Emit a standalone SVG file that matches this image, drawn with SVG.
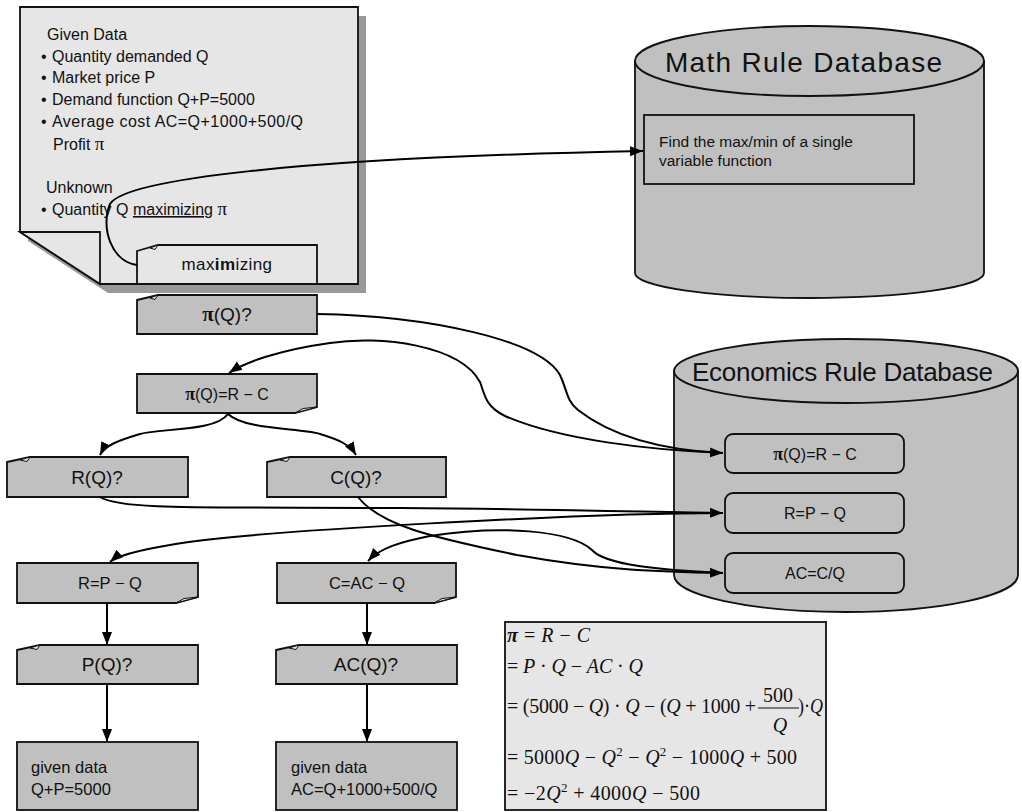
<svg xmlns="http://www.w3.org/2000/svg" width="1022" height="812" viewBox="0 0 1022 812">
<defs>
<marker id="arr" markerUnits="userSpaceOnUse" markerWidth="14" markerHeight="12" refX="13" refY="6" orient="auto">
<path d="M0,1 L13,6 L0,11 Z" fill="#000"/>
</marker>
<style>
.s{font-family:"Liberation Sans",Arial,sans-serif;fill:#111}
.m{font-family:"Liberation Serif","Times New Roman",serif;fill:#111}
.gray{fill:#c0c0c0;stroke:#111;stroke-width:1.8}
.light{fill:#e6e6e6;stroke:#111;stroke-width:1.8}
.curl{fill:#e8e8e8;stroke:#111;stroke-width:1}
.c{fill:none;stroke:#000;stroke-width:2}
.pi{font-family:"Liberation Serif","Times New Roman",serif;font-weight:bold}
</style>
</defs>
<rect width="1022" height="812" fill="#fff"/>

<g id="given-page">
<path d="M28,16 L366,16 L366,293 L108,293 L28,241 Z" fill="#999"/>
<path class="light" d="M20,7 L358,7 L358,284 L100,284 L20,232 Z"/>
<path class="light" d="M20,232 L100,232 L100,284 Z"/>
<g class="s" font-size="16">
<text x="47" y="40">Given Data</text>
<text x="41" y="62">•</text><text x="52" y="62">Quantity demanded Q</text>
<text x="41" y="83">•</text><text x="52" y="83">Market price P</text>
<text x="41" y="105">•</text><text x="52" y="105">Demand function Q+P=5000</text>
<text x="41" y="127">•</text><text x="52" y="127" textLength="251" lengthAdjust="spacing">Average cost AC=Q+1000+500/Q</text>
<text x="53" y="150">Profit  <tspan font-family="Liberation Serif, serif" font-size="19">π</tspan></text>
<text x="46" y="193">Unknown</text>
<text x="41" y="215">•</text><text x="52" y="215">Quantity Q <tspan text-decoration="underline">maximizing</tspan> <tspan font-family="Liberation Serif, serif" font-size="19">π</tspan></text>
</g>
</g>

<g id="maximizing">
<path class="light" d="M137,251 L158,245 L317,245 L317,284 L137,284 Z"/>
<path class="curl" d="M150,248 L158,245 L155,249.5 Z"/>
<text class="s" x="227" y="270" font-size="17" text-anchor="middle" letter-spacing="0.4">max<tspan font-weight="bold">im</tspan>izing</text>
</g>

<g id="math-db">
<path class="gray" d="M635,61 L635,273 A174.5,25 0 0 0 984,273 L984,61 Z"/>
<ellipse class="gray" cx="809.5" cy="61" rx="174.5" ry="35"/>
<text class="s" x="665" y="72" font-size="28" textLength="277" lengthAdjust="spacing">Math Rule Database</text>
</g>
<g id="math-rule">
<rect class="gray" x="644" y="115" width="270" height="69"/>
<text class="s" x="659" y="147" font-size="15.5">Find the max/min of a single</text>
<text class="s" x="659" y="166" font-size="15.5">variable function</text>
</g>

<g id="econ-db">
<path class="gray" d="M674,371 L674,575 A172,37 0 0 0 1018,575 L1018,371 Z"/>
<ellipse class="gray" cx="846" cy="371" rx="172" ry="32"/>
<text class="s" x="692" y="381" font-size="26" textLength="301" lengthAdjust="spacing">Economics Rule Database</text>
</g>
<g id="econ-rule-profit">
<rect class="gray" x="725" y="434" width="179" height="39" rx="8"/>
<text class="s" x="815" y="460" font-size="16" text-anchor="middle"><tspan class="pi" font-size="18">π</tspan>(Q)=R − C</text>
</g>
<g id="econ-rule-revenue">
<rect class="gray" x="725" y="493" width="179" height="40" rx="8"/>
<text class="s" x="815" y="519" font-size="16" text-anchor="middle">R=P − Q</text>
</g>
<g id="econ-rule-ac">
<rect class="gray" x="725" y="553" width="179" height="40" rx="8"/>
<text class="s" x="815" y="579" font-size="16" text-anchor="middle">AC=C/Q</text>
</g>

<g id="pi-q">
<path class="gray" d="M137,300 L158,295 L317,295 L317,334 L137,334 Z"/>
<path class="curl" d="M150,298 L158,295 L155,299.5 Z"/>
<text class="s" x="227" y="321" font-size="19" text-anchor="middle"><tspan class="pi" font-size="21">π</tspan>(Q)?</text>
</g>

<g id="pi-rc">
<path class="gray" d="M137,374 L317,374 L317,407 L295,413 L137,413 Z"/>
<path class="curl" d="M295,413 L303,408.5 L317,407 Z"/>
<text class="s" x="227" y="400" font-size="16" text-anchor="middle"><tspan class="pi" font-size="18">π</tspan>(Q)=R − C</text>
</g>

<g id="r-q">
<path class="gray" d="M7,462 L30,457 L188,457 L188,497 L7,497 Z"/>
<path class="curl" d="M20,460 L30,457 L27,461.5 Z"/>
<text class="s" x="97" y="484" font-size="19" text-anchor="middle">R(Q)?</text>
</g>
<g id="c-q">
<path class="gray" d="M267,462 L290,457 L446,457 L446,497 L267,497 Z"/>
<path class="curl" d="M280,460 L290,457 L287,461.5 Z"/>
<text class="s" x="356" y="484" font-size="19" text-anchor="middle">C(Q)?</text>
</g>

<g id="r-pq">
<path class="gray" d="M17,563 L198,563 L198,597 L176,603 L17,603 Z"/>
<path class="curl" d="M176,603 L184,598.5 L198,597 Z"/>
<text class="s" x="110" y="589" font-size="16.5" text-anchor="middle">R=P − Q</text>
</g>
<g id="c-acq">
<path class="gray" d="M277,563 L456,563 L456,597 L434,603 L277,603 Z"/>
<path class="curl" d="M434,603 L442,598.5 L456,597 Z"/>
<text class="s" x="367" y="589" font-size="16.5" text-anchor="middle">C=AC − Q</text>
</g>

<g id="p-q">
<path class="gray" d="M17,650 L40,645 L198,645 L198,684 L17,684 Z"/>
<path class="curl" d="M30,648 L40,645 L37,649.5 Z"/>
<text class="s" x="107" y="671" font-size="19" text-anchor="middle">P(Q)?</text>
</g>
<g id="ac-q">
<path class="gray" d="M276,650 L299,645 L457,645 L457,684 L276,684 Z"/>
<path class="curl" d="M289,648 L299,645 L296,649.5 Z"/>
<text class="s" x="366" y="671" font-size="19" text-anchor="middle">AC(Q)?</text>
</g>

<g id="given-p">
<rect class="gray" x="17" y="742" width="181" height="68"/>
<text class="s" x="31" y="773" font-size="16.5">given data</text>
<text class="s" x="31" y="795" font-size="16.5">Q+P=5000</text>
</g>
<g id="given-ac">
<rect class="gray" x="276" y="742" width="181" height="68"/>
<text class="s" x="291" y="773" font-size="16.5">given data</text>
<text class="s" x="291" y="795" font-size="16.5">AC=Q+1000+500/Q</text>
</g>

<g id="formula">
<rect class="light" x="505" y="622" width="321" height="188"/>
<g class="m" font-size="20">
<text x="507" y="642" textLength="83" lengthAdjust="spacing"><tspan font-weight="bold" font-style="italic">π</tspan> = <tspan font-style="italic">R</tspan> − <tspan font-style="italic">C</tspan></text>
<text x="507" y="673" textLength="136" lengthAdjust="spacing">= <tspan font-style="italic">P</tspan> · <tspan font-style="italic">Q</tspan> − <tspan font-style="italic">AC</tspan> · <tspan font-style="italic">Q</tspan></text>
<text x="507" y="713" textLength="249" lengthAdjust="spacing">= (5000 − <tspan font-style="italic">Q</tspan>) · <tspan font-style="italic">Q</tspan> − (<tspan font-style="italic">Q</tspan> + 1000 +</text>
<text x="778" y="702" text-anchor="middle">500</text>
<text x="780" y="732" text-anchor="middle" font-style="italic">Q</text>
<text x="798" y="713" textLength="25" lengthAdjust="spacingAndGlyphs">)·<tspan font-style="italic">Q</tspan></text>
<text x="507" y="764" textLength="290" lengthAdjust="spacing">= 5000<tspan font-style="italic">Q</tspan> − <tspan font-style="italic">Q</tspan><tspan dy="-8" font-size="13">2</tspan><tspan dy="8"> − </tspan><tspan font-style="italic">Q</tspan><tspan dy="-8" font-size="13">2</tspan><tspan dy="8"> − 1000</tspan><tspan font-style="italic">Q</tspan> + 500</text>
<text x="507" y="800" textLength="193" lengthAdjust="spacing">= −2<tspan font-style="italic">Q</tspan><tspan dy="-8" font-size="13">2</tspan><tspan dy="8"> + 4000</tspan><tspan font-style="italic">Q</tspan> − 500</text>
</g>
<line x1="758" y1="708" x2="799" y2="708" stroke="#111" stroke-width="1.2"/>
</g>

<g id="connectors">
<path class="c" d="M137,265 C112,262 100,228 110,204 C125,180 290,158 643,151" marker-end="url(#arr)"/>
<path class="c" d="M317,314 C430,316 540,340 560,375 C568,392 566,400 578,410 C610,435 660,450 723,453" marker-end="url(#arr)"/>
<path class="c" d="M723,453 C650,450 560,440 505,416 C485,406 485,395 480,382 C460,345 380,335 330,343 C280,350 245,362 229,373" marker-end="url(#arr)"/>
<path class="c" d="M228,414 C215,432 160,428 140,434 C120,440 105,445 100,455" marker-end="url(#arr)"/>
<path class="c" d="M228,414 C245,430 300,428 320,434 C340,440 350,445 356,455" marker-end="url(#arr)"/>
<path class="c" d="M100,497 C120,510 200,507 400,508 C550,509 650,512 723,513" marker-end="url(#arr)"/>
<path class="c" d="M723,513 C600,513 250,530 170,545 C140,550 118,555 110,562" marker-end="url(#arr)"/>
<path class="c" d="M358,497 C380,525 430,537 517,555 C600,570 660,572 723,573" marker-end="url(#arr)"/>
<path class="c" d="M723,573 C660,570 605,565 592,550 C570,530 500,525 430,536 C400,542 380,548 368,561" marker-end="url(#arr)"/>
<path class="c" d="M107,603 L107,645" marker-end="url(#arr)"/>
<path class="c" d="M367,603 L367,645" marker-end="url(#arr)"/>
<path class="c" d="M107,684 L107,742" marker-end="url(#arr)"/>
<path class="c" d="M367,684 L367,742" marker-end="url(#arr)"/>
</g>
</svg>
